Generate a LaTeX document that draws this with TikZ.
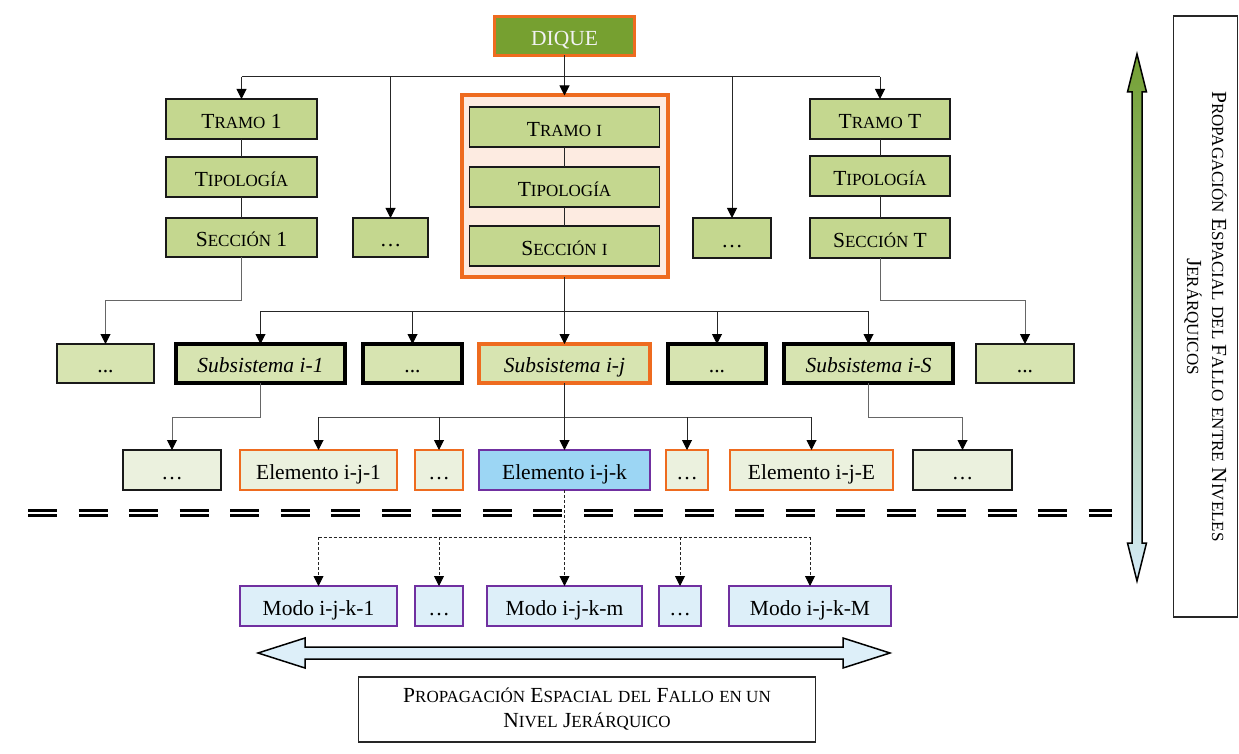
\documentclass[tikz,border=0pt]{standalone}
\usepackage{fontspec}
\setmainfont{Liberation Serif}
\usetikzlibrary{arrows.meta}
\definecolor{orng}{HTML}{EE6B1F}
\definecolor{purp}{HTML}{7030A0}
\definecolor{dgreen}{HTML}{76A030}
\definecolor{tgreen}{HTML}{C4D78F}
\definecolor{sgreen}{HTML}{D7E4B1}
\definecolor{egreen}{HTML}{EBF1DE}
\definecolor{peach}{HTML}{FDEBE1}
\definecolor{eblue}{HTML}{9CD6F4}
\definecolor{mblue}{HTML}{DDEFF9}
\definecolor{argreen}{HTML}{74A033}
\definecolor{arpale}{HTML}{E4EDD8}
\definecolor{arblue}{HTML}{D4EBF8}
% text sizes and a hand-made small-caps macro
\newcommand\bigf{\fontsize{21.5}{25}\selectfont}
\newcommand\smf{\fontsize{17}{20}\selectfont}
\newcommand\fsc[2]{{\bigf #1}{\smf #2}}
\begin{document}
\begin{tikzpicture}[x=1pt,y=-1pt,
  every node/.style={font=\bigf, inner sep=0pt, outer sep=0pt},
  boxbase/.style={rectangle, minimum height=40pt, text height=19pt, text depth=0.5pt},
  thinbox/.style={boxbase, draw=black!90, line width=1.5pt},
  tbox/.style={thinbox, fill=tgreen},
  sbox/.style={thinbox, fill=sgreen},
  sboxk/.style={boxbase, draw=black, line width=3.4pt, fill=sgreen},
  sboxo/.style={boxbase, draw=orng, line width=3.4pt, fill=sgreen},
  ebox/.style={thinbox, fill=egreen},
  eboxo/.style={boxbase, draw=orng, line width=2.8pt, fill=egreen},
  eboxk/.style={boxbase, draw=purp, line width=2.8pt, fill=eblue},
  mbox/.style={boxbase, draw=purp, line width=2.8pt, fill=mblue},
  link/.style={draw=black!85, line width=1pt},
  tip/.style={-{Triangle[length=10pt,width=10pt,color=black,fill=black]}},
  conn/.style={link, tip},
  dlink/.style={draw=black!85, line width=0.9pt, dash pattern=on 3pt off 2pt},
  dconn/.style={dlink, tip}
]
\useasboundingbox (0,0) rectangle (1239,754);

% ---- top node ----
\node[boxbase, draw=orng, line width=3.5pt, fill=dgreen, text=white!95!black,
      minimum width=140pt, minimum height=39pt] (diq) at (564.5,36) {DIQUE};

% ---- highlighted section group ----
\node[draw=orng, line width=4pt, fill=peach, minimum width=206pt,
      minimum height=181pt] (grp) at (564.5,186) {};
\node[tbox, minimum width=190pt] (ti) at (564.5,127) {\fsc{T}{RAMO} {\smf I}};
\node[tbox, minimum width=190pt] (pi) at (564.5,187) {\fsc{T}{IPOLOGÍA}};
\node[tbox, minimum width=190pt] (ci) at (564.5,246) {\fsc{S}{ECCIÓN} {\smf I}};

% ---- first and last section columns ----
\node[tbox, minimum width=151pt] (t1) at (241.5,119) {\fsc{T}{RAMO} 1};
\node[tbox, minimum width=151pt] (p1) at (241.5,177) {\fsc{T}{IPOLOGÍA}};
\node[tbox, minimum width=151pt, minimum height=39pt] (c1) at (241.5,237.5) {\fsc{S}{ECCIÓN} 1};
\node[tbox, minimum width=140pt] (tT) at (880,119) {\fsc{T}{RAMO} T};
\node[tbox, minimum width=140pt] (pT) at (880,176) {\fsc{T}{IPOLOGÍA}};
\node[tbox, minimum width=140pt] (cT) at (880,238) {\fsc{S}{ECCIÓN} T};
\node[tbox, minimum width=75pt, minimum height=39pt] (ta) at (390.5,237.5) {…};
\node[tbox, minimum width=78pt] (tb) at (732,238) {…};

% ---- subsystem row ----
\node[sbox,  minimum width=97pt,  minimum height=39pt] (d1) at (105.5,363.5) {...};
\node[sboxk, minimum width=169pt, minimum height=39pt] (s1) at (260.5,363.5) {\textit{Subsistema i-1}};
\node[sboxk, minimum width=99pt,  minimum height=39pt] (d2) at (412.5,363.5) {...};
\node[sboxo, minimum width=171pt, minimum height=39pt] (sj) at (564.5,363.5) {\textit{Subsistema i-j}};
\node[sboxk, minimum width=98pt,  minimum height=39pt] (d3) at (717,363.5) {...};
\node[sboxk, minimum width=169pt, minimum height=39pt] (sS) at (868.5,363.5) {\textit{Subsistema i-S}};
\node[sbox,  minimum width=98pt,  minimum height=39pt] (d4) at (1025,363.5) {...};

% ---- element row ----
\node[ebox,  minimum width=98pt]  (e0) at (172,470) {…};
\node[eboxo, minimum width=157pt] (e1) at (318.5,470) {Elemento i-j-1};
\node[eboxo, minimum width=48pt]  (e2) at (439,470) {…};
\node[eboxk, minimum width=171pt] (ek) at (564.5,470) {Elemento i-j-k};
\node[eboxo, minimum width=42pt]  (e3) at (687,470) {…};
\node[eboxo, minimum width=163pt] (eE) at (811.5,470) {Elemento i-j-E};
\node[ebox,  minimum width=99pt]  (e4) at (962.5,470) {…};

% ---- failure-mode row ----
\node[mbox, minimum width=157pt] (m1) at (318.5,606) {Modo i-j-k-1};
\node[mbox, minimum width=48pt]  (m2) at (439,606) {…};
\node[mbox, minimum width=155pt] (mm) at (564.5,606) {Modo i-j-k-m};
\node[mbox, minimum width=42pt]  (m3) at (680,606) {…};
\node[mbox, minimum width=162pt] (mM) at (810,606) {Modo i-j-k-M};

% ---- bus levels ----
\coordinate (busA) at (0,77);
\coordinate (jL)   at (0,300);
\coordinate (busB) at (0,311);
\coordinate (busC) at (0,417);
\coordinate (busD) at (0,537);

% ---- connectors: dike to sections ----
\draw[conn] (diq.south) -- (grp.north);
\draw[link] (t1.north |- busA) -- (tT.north |- busA);
\foreach \n in {t1,ta,tb,tT} \draw[conn] (\n.north |- busA) -- (\n.north);
\draw[link] (t1.south) -- (p1.north);
\draw[link] (p1.south) -- (c1.north);
\draw[link] (ti.south) -- (pi.north);
\draw[link] (pi.south) -- (ci.north);
\draw[link] (tT.south) -- (pT.north);
\draw[link] (pT.south) -- (cT.north);

% ---- connectors: sections to subsystems ----
\draw[conn, draw=black!60] (c1.south) -- (c1.south |- jL) -| (d1.north);
\draw[conn, draw=black!60] (cT.south) -- (cT.south |- jL) -| (d4.north);
\draw[link] (grp.south) -- (ci.south |- busB);
\draw[link] (s1.north |- busB) -- (sS.north |- busB);
\foreach \n in {s1,d2,sj,d3,sS} \draw[conn] (\n.north |- busB) -- (\n.north);

% ---- connectors: subsystems to elements ----
\draw[conn, draw=black!60] (s1.south) -- (s1.south |- busC) -| (e0.north);
\draw[conn, draw=black!60] (sS.south) -- (sS.south |- busC) -| (e4.north);
\draw[link] (sj.south) -- (sj.south |- busC);
\draw[link, draw=black!70] (e1.north |- busC) -- (eE.north |- busC);
\foreach \n in {e1,e2,ek,e3,eE} \draw[conn] (\n.north |- busC) -- (\n.north);

% ---- level boundary ----
\draw[line width=3pt, double=white, double distance=2pt,
      dash pattern=on 29pt off 21.5pt] (28,513) -- (1112,513);

% ---- connectors: element to failure modes ----
\draw[dlink] (ek.south) -- (ek.south |- busD);
\draw[dlink] (m1.north |- busD) -- (mM.north |- busD);
\foreach \n in {m1,m2,mm,m3,mM} \draw[dconn] (\n.north |- busD) -- (\n.north);

% ---- horizontal propagation arrow and caption ----
\draw[line width=1.5pt, fill=mblue, line join=miter]
  (258,653) -- (305,638) -- (305,647) -- (843,647) -- (843,638) -- (890,653)
  -- (843,668) -- (843,659) -- (305,659) -- (305,668) -- cycle;
\node[draw=black!85, line width=1.5pt, minimum width=457pt, minimum height=65pt,
      align=center] (hcap) at (587,709.5)
  {\fsc{P}{ROPAGACIÓN} \fsc{E}{SPACIAL} {\smf DEL} \fsc{F}{ALLO} {\smf EN UN}\\
   \fsc{N}{IVEL} \fsc{J}{ERÁRQUICO}};

% ---- vertical propagation arrow and caption ----
\draw[line width=1.5pt, top color=argreen, middle color=arpale, bottom color=arblue,
      line join=miter]
  (1137,54) -- (1146.5,92) -- (1142,92) -- (1142,543) -- (1146.5,543) -- (1137,581)
  -- (1127.5,543) -- (1132,543) -- (1132,92) -- (1127.5,92) -- cycle;
\node[draw=black!85, line width=1.5pt, rotate=-90, minimum width=601pt,
      minimum height=64pt, align=center] (vcap) at (1205.5,316.5)
  {\fsc{P}{ROPAGACIÓN} \fsc{E}{SPACIAL} {\smf DEL} \fsc{F}{ALLO} {\smf ENTRE} \fsc{N}{IVELES}\\
   \fsc{J}{ERÁRQUICOS}};
\end{tikzpicture}
\end{document}
